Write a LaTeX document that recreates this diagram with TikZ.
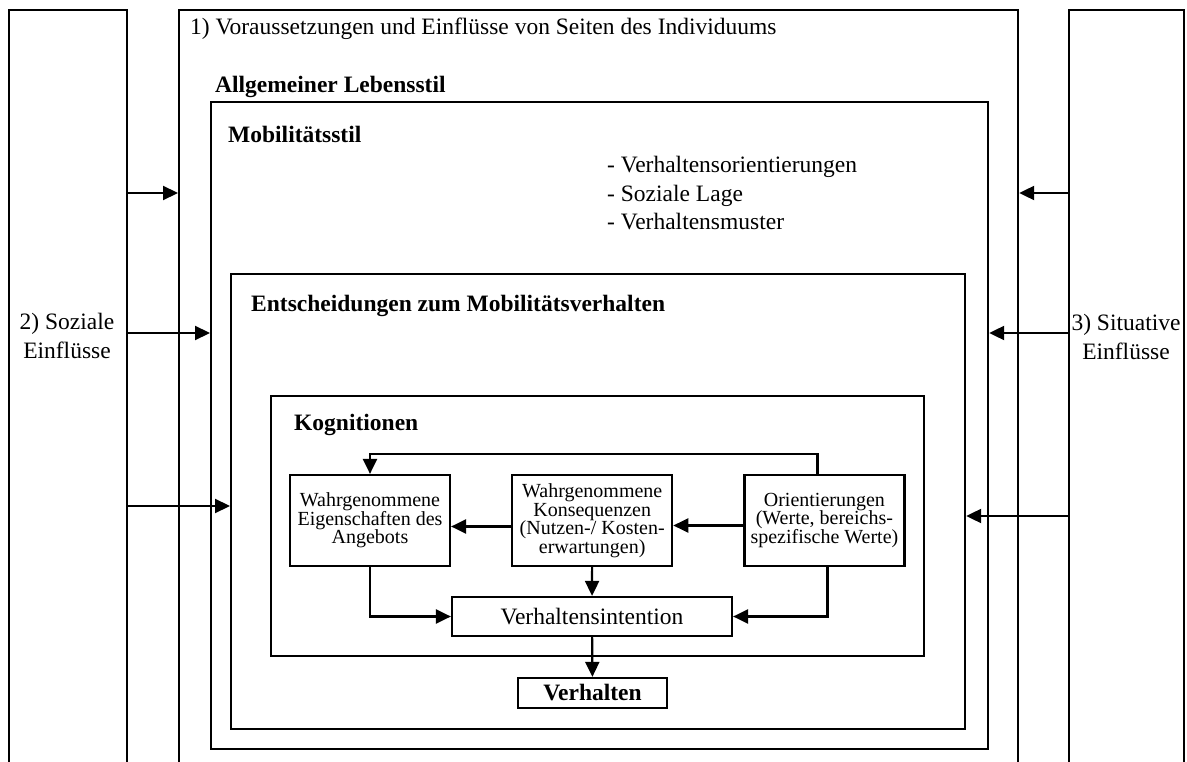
\documentclass[tikz,border=0pt]{standalone}
\usepackage{fontspec}
\setmainfont{Liberation Serif}
\usetikzlibrary{arrows.meta,positioning}

\newcommand{\bigfont}{\fontsize{23.5}{29}\selectfont}
\newcommand{\boxfont}{\fontsize{20}{18.5}\selectfont}

\tikzset{
  frame/.style={draw, line width=2.2pt, inner sep=0pt, anchor=north west},
  box/.style={draw, line width=2.2pt, align=center, inner sep=0pt,
    minimum width=160pt, minimum height=91pt, font=\boxfont},
  title/.style={anchor=base west, inner sep=0pt, font=\bigfont},
  head/.style={title, font=\bigfont\bfseries},
  flow/.style={line width=2.2pt, -{Triangle[length=15pt,width=14pt]}},
}

\begin{document}
\begin{tikzpicture}[x=1pt,y=-1pt]
  \useasboundingbox (0,0) rectangle (1187,762);
  \clip (0,0) rectangle (1187,762);

  % open frames and nested frames
  \node[frame, minimum width=118pt, minimum height=800pt] (soz) at (8,9) {};
  \node[frame, minimum width=839pt, minimum height=800pt] (vor) at (178,9) {};
  \node[frame, minimum width=115pt, minimum height=800pt] (sit) at (1068,9) {};
  \node[frame, minimum width=777pt, minimum height=647pt] (leb) at (210,101) {};
  \node[frame, minimum width=734pt, minimum height=455pt] (ent) at (230,273) {};
  \node[frame, minimum width=653pt, minimum height=260pt] (kog) at (270,395) {};

  % frame titles
  \node[title] (vortxt) at (190,35) {1) Voraussetzungen und Einfl\"usse von Seiten des Individuums};
  \node[head]  (lebtxt) at (215,93) {Allgemeiner Lebensstil};
  \node[head]  (mobtxt) at (228,143) {Mobilit\"atsstil};
  \node[title] (mob1)   at (607,173) {- Verhaltensorientierungen};
  \node[title] (mob2)   at (607,202) {- Soziale Lage};
  \node[title] (mob3)   at (607,230) {- Verhaltensmuster};
  \node[head]  (enttxt) at (251,312) {Entscheidungen zum Mobilit\"atsverhalten};
  \node[head]  (kogtxt) at (294,430) {Kognitionen};

  \node[align=center, inner sep=0pt, font=\bigfont] (sozlab) at (67,336) {2) Soziale\\Einfl\"usse};
  \node[align=center, inner sep=0pt, font=\bigfont] (sitlab) at (1126,337) {3) Situative\\Einfl\"usse};

  % cognitions
  \node[box] (eig) at (370,520.5) {Wahrgenommene\\Eigenschaften des\\Angebots};
  \node[box, right=60pt of eig] (kons) {Wahrgenommene\\Konsequenzen\\(Nutzen-/ Kosten-\\erwartungen)};
  \node[box, right=70pt of kons] (ori) {Orientierungen\\(Werte, bereichs-\\spezifische Werte)};
  \node[box, minimum width=280pt, minimum height=39pt, font=\bigfont] (vi) at (592,616.5) {Verhaltensintention};
  \node[box, minimum width=149pt, minimum height=30pt, font=\bigfont\bfseries] (verh) at (592.5,693) {Verhalten};

  \draw[flow] ([yshift=-6pt]kons.west) -- ([yshift=-6pt]eig.east);
  \draw[flow] ([yshift=-5pt]ori.west) -- ([yshift=-5pt]kons.east);
  \draw[flow] ([xshift=-7pt]ori.north) -- ++(0,-20) -| (eig.north);
  \draw[flow] (kons) -- (vi);
  \draw[flow] (eig.south) |- (vi.west);
  \draw[flow] ([xshift=3pt]ori.south) |- (vi.east);
  \draw[flow] (vi) -- (verh);

  % influences from the sides
  \coordinate (l1) at (0,193);
  \coordinate (l2) at (0,333);
  \coordinate (l3) at (0,506);
  \coordinate (r3) at (0,516);
  \draw[flow] (soz.east |- l1) -- (vor.west |- l1);
  \draw[flow] (soz.east |- l2) -- (leb.west |- l2);
  \draw[flow] (soz.east |- l3) -- (ent.west |- l3);
  \draw[flow] (sit.west |- l1) -- (vor.east |- l1);
  \draw[flow] (sit.west |- l2) -- (leb.east |- l2);
  \draw[flow] (sit.west |- r3) -- (ent.east |- r3);
\end{tikzpicture}
\end{document}
